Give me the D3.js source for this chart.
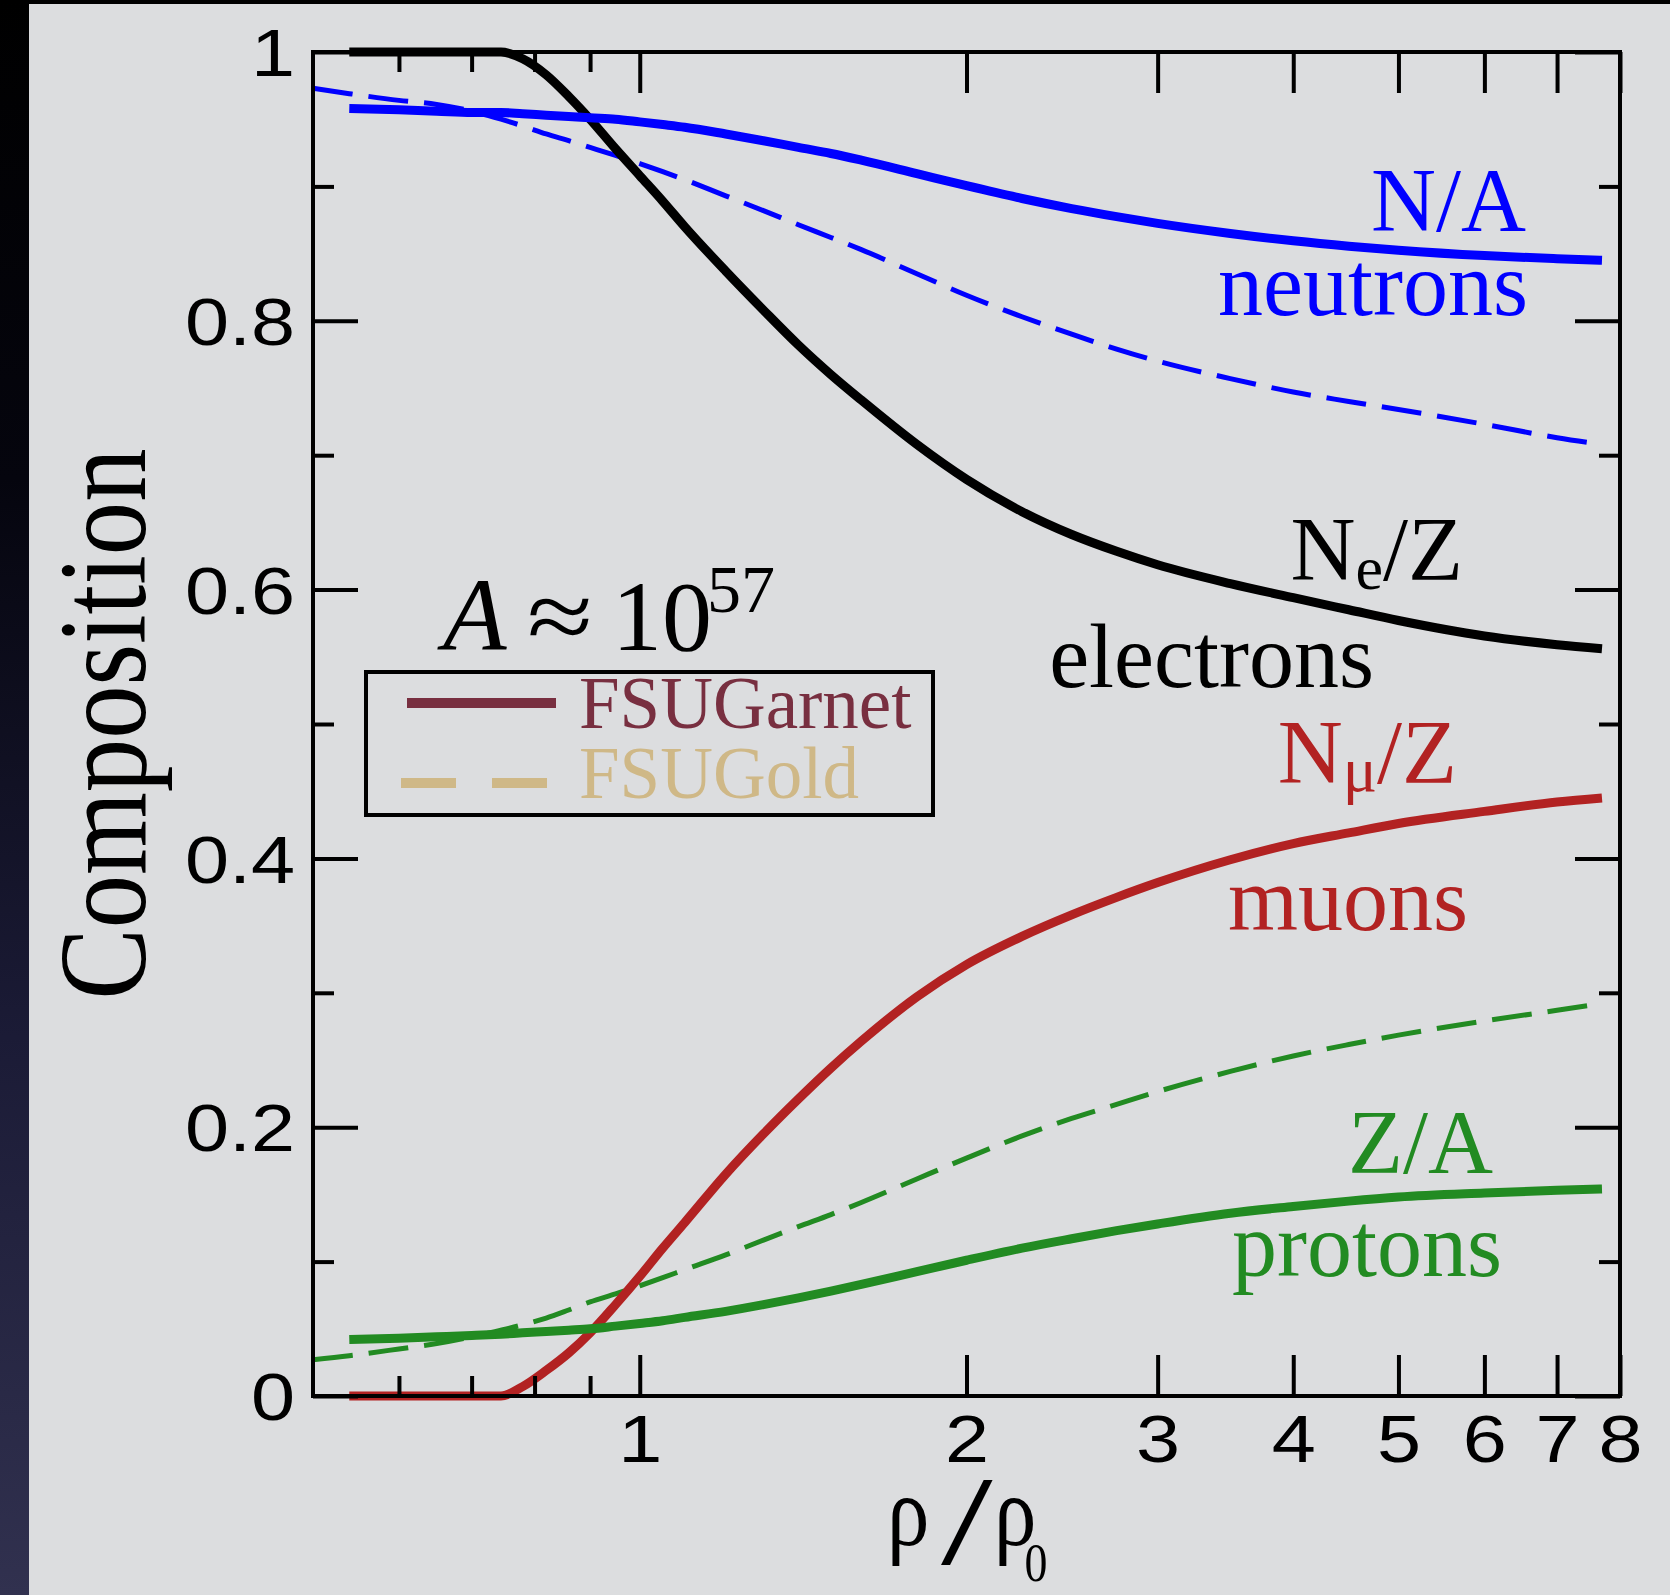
<!DOCTYPE html>
<html>
  <head>
    <title>Composition</title>
    <script src="https://cdn.jsdelivr.net/npm/d3@7"></script>
    <style type="text/css">

html, body {
  margin: 0;
  padding: 0;
  background: #000;
}

svg {
  display: block;
}

.tick line {
  stroke: #000;
  stroke-width: 4;
}

.tick text {
  font-family: "Liberation Sans", Arial, sans-serif;
  font-size: 66px;
  fill: #000;
}

.lbl {
  font-family: "Liberation Serif", "Times New Roman", serif;
}

    </style>
  </head>
  <body>
    <script type="text/javascript">

// density grid (rho/rho0) shared by every curve
var rho = [0.5, 0.54, 0.6, 0.65, 0.7, 0.745, 0.78, 0.82, 0.86, 0.9, 0.95, 1.0, 1.05, 1.1, 1.2, 1.3,
           1.4, 1.5, 1.6, 1.8, 2.0, 2.25, 2.5, 2.75, 3.0, 3.5, 4.0, 4.5, 5.0, 6.0, 7.0, 7.7];

// FSUGarnet (solid)
var neutronsGarnet = [null, 0.958, 0.957, 0.956, 0.955, 0.955, 0.954, 0.953, 0.952, 0.951, 0.950, 0.948,
                      0.946, 0.944, 0.939, 0.934, 0.929, 0.9245, 0.9195, 0.9095, 0.9005, 0.891, 0.8835, 0.8775,
                      0.8725, 0.865, 0.8595, 0.8555, 0.8525, 0.8485, 0.8462, 0.845];
var electronsGarnet = [null, 1.0, 1.0, 1.0, 1.0, 1.0, 0.995, 0.983, 0.967, 0.950, 0.928, 0.908,
                       0.889, 0.870, 0.837, 0.808, 0.782, 0.760, 0.741, 0.708, 0.682, 0.658, 0.641, 0.6285,
                       0.6185, 0.6045, 0.594, 0.585, 0.577, 0.5655, 0.559, 0.556];
var muonsGarnet = [null, 0, 0, 0, 0, 0, 0.007, 0.019, 0.032, 0.047, 0.068, 0.089,
                   0.110, 0.129, 0.165, 0.195, 0.221, 0.244, 0.264, 0.297, 0.321, 0.342, 0.358, 0.371,
                   0.382, 0.399, 0.411, 0.419, 0.426, 0.435, 0.442, 0.445];
var protonsGarnet = [null, 0.042, 0.043, 0.044, 0.045, 0.046, 0.047, 0.048, 0.049, 0.050, 0.052, 0.054,
                     0.056, 0.0585, 0.063, 0.068, 0.073, 0.078, 0.083, 0.0925, 0.101, 0.110, 0.117, 0.123,
                     0.128, 0.136, 0.141, 0.145, 0.148, 0.151, 0.153, 0.154];

// FSUGold (dashed)
var neutronsGold = [0.973, 0.969, 0.964, 0.961, 0.956, 0.950, 0.945, 0.939, 0.934, 0.929, 0.923, 0.917,
                    0.911, 0.905, 0.893, 0.882, 0.8715, 0.862, 0.853, 0.835, 0.819, 0.803, 0.790, 0.779,
                    0.770, 0.757, 0.747, 0.740, 0.734, 0.723, 0.713, 0.708];
var protonsGold = [0.027, 0.030, 0.035, 0.039, 0.044, 0.049, 0.053, 0.058, 0.064, 0.070, 0.076, 0.082,
                   0.088, 0.094, 0.105, 0.116, 0.126, 0.135, 0.144, 0.1615, 0.177, 0.1935, 0.2065, 0.217,
                   0.2265, 0.2415, 0.253, 0.2615, 0.2685, 0.279, 0.287, 0.292];

var xMajor = [1, 2, 3, 4, 5, 6, 7, 8];
var xMinor = [0.6, 0.7, 0.8, 0.9];
var yMajor = [0, 0.2, 0.4, 0.6, 0.8, 1];
var yMinor = [0.1, 0.3, 0.5, 0.7, 0.9];

var W = 1670, H = 1595;
var L = 313, R = 1620, T = 52, B = 1396;

var svg = d3.select("body").append("svg")
    .attr("width", W)
    .attr("height", H);

var grad = svg.append("defs").append("linearGradient")
    .attr("id", "edge")
    .attr("x1", 0).attr("y1", 0).attr("x2", 0).attr("y2", 1);
grad.append("stop").attr("offset", "0%").attr("stop-color", "#000");
grad.append("stop").attr("offset", "30%").attr("stop-color", "#05050e");
grad.append("stop").attr("offset", "65%").attr("stop-color", "#1b1b36");
grad.append("stop").attr("offset", "100%").attr("stop-color", "#31314f");

svg.append("rect").attr("width", W).attr("height", H).attr("fill", "url(#edge)");
svg.append("rect").attr("x", 29).attr("y", 4).attr("width", W - 29).attr("height", H - 4)
    .attr("fill", "#dcdddf");

var x = d3.scaleLog().domain([0.5, 8]).range([L, R]);
var y = d3.scaleLinear().domain([0, 1]).range([B, T]);

var line = d3.line()
    .defined(function(d) { return d[1] != null; })
    .x(function(d) { return x(d[0]); })
    .y(function(d) { return y(d[1]); })
    .curve(d3.curveMonotoneX);

var series = [
  {vals: neutronsGold, color: "#0000ff", width: 5, dash: "40,16"},
  {vals: protonsGold, color: "#228b22", width: 5, dash: "40,16"},
  {vals: muonsGarnet, color: "#b22222", width: 9},
  {vals: protonsGarnet, color: "#228b22", width: 9},
  {vals: electronsGarnet, color: "#000", width: 9},
  {vals: neutronsGarnet, color: "#0000ff", width: 9}
];

svg.append("g").selectAll("path")
    .data(series)
  .enter().append("path")
    .attr("fill", "none")
    .attr("stroke", function(d) { return d.color; })
    .attr("stroke-width", function(d) { return d.width; })
    .attr("stroke-dasharray", function(d) { return d.dash || null; })
    .attr("d", function(d) { return line(rho.map(function(r, i) { return [r, d.vals[i]]; })); });

// axes: ticks point inward on all four sides
function noDomain(g) { g.select(".domain").remove(); }

svg.append("g").attr("transform", "translate(" + L + ",0)")
    .call(d3.axisLeft(y).tickValues(yMajor).tickSize(-45).tickPadding(15).tickFormat(d3.format("")))
    .call(noDomain)
    .call(function(g) {
      g.selectAll("text").attr("dy", "0.36em").attr("transform", "scale(1.2,1)");
    });
svg.append("g").attr("transform", "translate(" + L + ",0)")
    .call(d3.axisLeft(y).tickValues(yMinor).tickSize(-21).tickFormat(""))
    .call(noDomain);
svg.append("g").attr("transform", "translate(" + R + ",0)")
    .call(d3.axisRight(y).tickValues(yMajor).tickSize(-45).tickFormat(""))
    .call(noDomain);
svg.append("g").attr("transform", "translate(" + R + ",0)")
    .call(d3.axisRight(y).tickValues(yMinor).tickSize(-21).tickFormat(""))
    .call(noDomain);

svg.append("g").attr("transform", "translate(0," + B + ")")
    .call(d3.axisBottom(x).tickValues(xMajor).tickSize(-41).tickPadding(19).tickFormat(d3.format("d")))
    .call(noDomain)
    .call(function(g) {
      g.selectAll("text").attr("transform", "scale(1.2,1)");
    });
svg.append("g").attr("transform", "translate(0," + B + ")")
    .call(d3.axisBottom(x).tickValues(xMinor).tickSize(-20).tickFormat(""))
    .call(noDomain);
svg.append("g").attr("transform", "translate(0," + T + ")")
    .call(d3.axisTop(x).tickValues(xMajor).tickSize(-41).tickFormat(""))
    .call(noDomain);
svg.append("g").attr("transform", "translate(0," + T + ")")
    .call(d3.axisTop(x).tickValues(xMinor).tickSize(-20).tickFormat(""))
    .call(noDomain);

svg.append("rect")
    .attr("x", L).attr("y", T)
    .attr("width", R - L).attr("height", B - T)
    .attr("fill", "none")
    .attr("stroke", "#000")
    .attr("stroke-width", 4);

// axis titles
svg.append("text").attr("class", "lbl")
    .attr("transform", "translate(145," + ((T + B) / 2) + ") rotate(-90) scale(0.86,1)")
    .attr("text-anchor", "middle")
    .style("font-size", "124px")
    .text("Composition");

var xt = svg.append("g").attr("class", "lbl");
xt.append("text").attr("transform", "translate(887,1545) scale(0.85,1)")
    .style("font-size", "100px").text("ρ");
xt.append("text").attr("transform", "translate(941,1564) scale(1.45,1)")
    .style("font-size", "128px").text("/");
var rho0 = xt.append("text").attr("transform", "translate(994,1545) scale(0.85,1)")
    .style("font-size", "100px");
rho0.append("tspan").text("ρ");
rho0.append("tspan").attr("dx", -14).attr("dy", 36).style("font-size", "54px").text("0");

// curve labels, two lines each: the symbol above the particle name
var labels = [
  {color: "#0000ff", top: [1526, 231, [["N/A"]]], bottom: [1528, 315, "neutrons"]},
  {color: "#000", top: [1463, 580, [["N"], ["e", 9, 62], ["/Z", -9]]], bottom: [1374, 687, "electrons"]},
  {color: "#b22222", top: [1457, 783, [["N"], ["μ", 8, 64], ["/Z", -8]]], bottom: [1468, 930, "muons"]},
  {color: "#228b22", top: [1493, 1173, [["Z/A"]]], bottom: [1502, 1276, "protons"]}
];

labels.forEach(function(l) {
  var t = svg.append("text").attr("class", "lbl")
      .attr("text-anchor", "end")
      .attr("fill", l.color)
      .style("font-size", "90px");
  l.top[2].forEach(function(p, i) {
    var s = t.append("tspan").text(p[0]);
    if (i === 0) s.attr("x", l.top[0]).attr("y", l.top[1]);
    if (p[1]) s.attr("dy", p[1]);
    if (p[2]) s.style("font-size", p[2] + "px");
  });
  t.append("tspan")
      .attr("x", l.bottom[0]).attr("y", l.bottom[1])
      .text(l.bottom[2]);
});

// A ~ 10^57
var ann = svg.append("g").attr("class", "lbl");
ann.append("text").attr("x", 443).attr("y", 650)
    .style("font-size", "104px").style("font-style", "italic").text("A");
ann.append("text").attr("transform", "translate(527,650) scale(1.2,1)")
    .style("font-size", "100px").text("≈");
ann.append("text").attr("x", 612).attr("y", 650)
    .style("font-size", "100px").text("10");
ann.append("text").attr("x", 707).attr("y", 612)
    .style("font-size", "68px").text("57");

// legend
var leg = svg.append("g");
leg.append("rect")
    .attr("x", 366).attr("y", 672)
    .attr("width", 567).attr("height", 143)
    .attr("fill", "none").attr("stroke", "#000").attr("stroke-width", 4);
leg.append("line")
    .attr("x1", 407).attr("x2", 556).attr("y1", 703).attr("y2", 703)
    .attr("stroke", "#782f40").attr("stroke-width", 10);
leg.append("line")
    .attr("x1", 401).attr("x2", 547).attr("y1", 783).attr("y2", 783)
    .attr("stroke", "#cfb887").attr("stroke-width", 10)
    .attr("stroke-dasharray", "55,36");
leg.append("text").attr("class", "lbl")
    .attr("x", 579).attr("y", 728)
    .attr("fill", "#782f40").style("font-size", "73px").text("FSUGarnet");
leg.append("text").attr("class", "lbl")
    .attr("x", 579).attr("y", 798)
    .attr("fill", "#cfb887").style("font-size", "73px").text("FSUGold");

    </script>
  </body>
</html>
